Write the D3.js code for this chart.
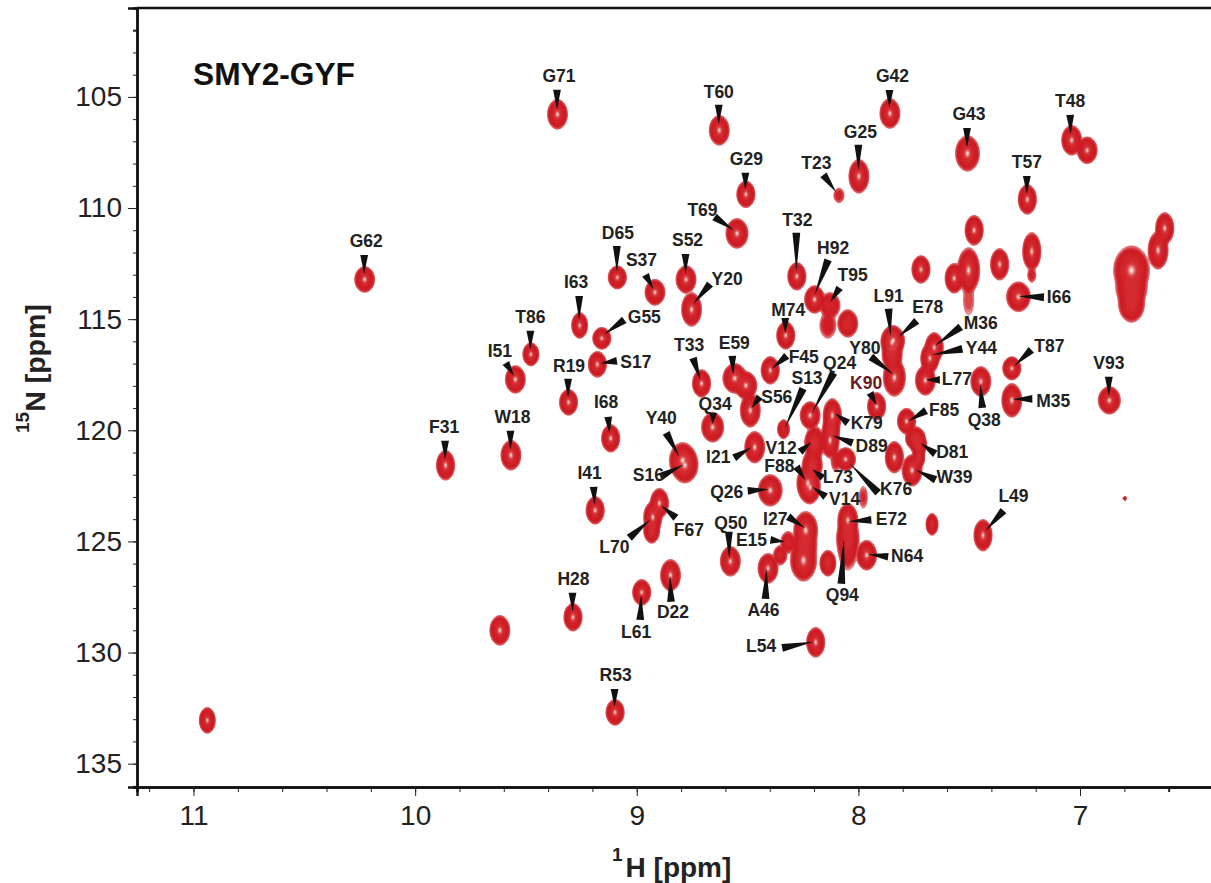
<!DOCTYPE html>
<html>
<head>
<meta charset="utf-8">
<script src="https://cdn.jsdelivr.net/npm/d3@7"></script>
<style>
  html, body { margin: 0; padding: 0; background: #fff; overflow: hidden; }
  text { font-family: "Liberation Sans", Arial, sans-serif; }
</style>
</head>
<body>
<div class="plot"></div>
<script>
// peak list: position and half width in ppm, relative height
const peakNames = [
  "G71","T60","G42","T48","","G43","G29","G25","T23","T57",
  "T69","G62","D65","S52","T32","Y20","S37","H92","T95","",
  "","","","","","","","","I66","",
  "","","","","I63","G55","S17","T86","I51","R19",
  "I68","T33","E59","","S56","F45","M74","Q34","Y40","S16",
  "I21","Q26","S13","Q24","V12","F88","L73","V14","K79","D89",
  "","K76","K90","L91","E78","Y80","","M36","Y44","L77",
  "T87","Q38","M35","V93","F85","","D81","W39","","",
  "L49","","E72","Q94","","N64","","I27","","E15",
  "A46","","Q50","D22","L61","F67","L70","","I41","F31",
  "W18","H28","","L54","R53","","",
  "","","",""
];
const peakH = [
  9.36,8.63,7.86,7.04,6.97,7.51,8.51,8.00,8.09,7.24,
  8.55,10.23,9.09,8.78,8.28,8.755,8.92,8.20,8.13,8.14,
  8.05,7.48,7.505,7.505,7.57,7.365,7.22,7.22,7.28,7.72,
  6.77,6.77,6.65,6.62,9.26,9.16,9.18,9.48,9.55,9.31,
  9.12,8.71,8.56,8.51,8.49,8.40,8.33,8.66,8.795,8.785,
  8.47,8.40,8.34,8.22,8.20,8.23,8.21,8.22,8.12,8.13,
  8.105,8.06,7.92,7.85,7.845,7.84,7.85,7.66,7.68,7.70,
  7.31,7.45,7.31,6.87,7.785,7.745,7.73,7.76,7.73,7.84,
  7.44,7.67,8.05,8.05,7.98,7.965,8.14,8.24,8.25,8.32,
  8.41,8.355,8.58,8.85,8.98,8.90,8.93,8.935,9.19,9.865,
  9.57,9.29,9.62,8.195,9.10,10.94,6.80,
  6.77,8.245,8.125,8.05
];
const peakN = [
  105.76,106.48,105.72,106.93,107.38,107.52,109.36,108.55,109.41,109.59,
  111.12,113.19,113.10,113.19,113.05,114.54,113.77,114.09,114.36,115.26,
  115.17,110.98,112.78,114.13,113.14,112.51,111.93,113.0,113.97,112.74,
  112.78,114.27,111.88,110.89,115.26,115.84,117.01,116.56,117.69,118.72,
  120.34,117.87,117.64,117.96,119.08,117.28,115.71,119.84,121.33,121.55,
  120.74,122.68,119.93,119.31,120.56,122.36,121.55,122.54,119.31,120.43,
  121.33,121.28,118.90,116.02,115.93,117.60,116.61,116.25,116.74,117.73,
  117.19,117.78,118.63,118.63,119.57,120.34,120.65,121.78,121.19,121.19,
  124.70,124.21,124.03,125.15,122.99,125.6,125.96,124.48,125.83,125.02,
  126.19,125.6,125.87,126.50,127.27,123.26,123.89,124.48,123.58,121.55,
  121.10,128.39,128.98,129.52,132.67,133.03,123.04,
  113.6,125.15,119.9,124.8
];
const peakWidthH = [
  .045,.045,.045,.045,.045,.054,.041,.045,.023,.041,
  .05,.045,.041,.045,.041,.045,.045,.045,.045,.036,
  .045,.041,.05,.023,.041,.041,.041,.018,.054,.041,
  .081,.059,.045,.041,.036,.041,.041,.036,.045,.041,
  .041,.041,.054,.05,.045,.041,.041,.05,.06,.059,
  .045,.054,.027,.045,.045,.05,.045,.045,.041,.041,
  .02,.045,.041,.05,.05,.05,.045,.041,.041,.045,
  .041,.045,.045,.05,.041,.045,.036,.045,.027,.041,
  .041,.027,.045,.045,.018,.045,.036,.054,.059,.032,
  .045,.03,.045,.045,.041,.041,.041,.036,.041,.041,
  .045,.041,.045,.041,.041,.036,.008,
  .07,.055,.038,.05
];
const peakWidthN = [
  .67,.67,.67,.67,.6,.8,.6,.76,.33,.67,
  .67,.58,.52,.62,.62,.76,.58,.62,.58,.58,
  .62,.67,1.02,.67,.67,.71,.85,.32,.67,.62,
  1.1,.85,.85,.71,.58,.49,.58,.52,.62,.58,
  .62,.62,.67,.62,.76,.62,.62,.67,.8,.8,
  .71,.71,.43,.62,.76,.85,.71,.74,.76,.8,
  .49,.52,.62,.71,.64,.85,.64,.67,.67,.67,
  .52,.67,.76,.62,.58,.52,.49,.71,.49,.71,
  .71,.49,.76,1.12,.49,.67,.58,.85,.94,.49,
  .67,.44,.67,.71,.58,.67,.71,.58,.62,.67,
  .67,.62,.67,.67,.58,.58,.09,
  .8,.8,.7,.9
];
const peakLevel = [
  1,1,1,1,1,1,1,1,.3,1,
  1,1,1,1,1,1,1,1,.6,.35,
  .8,1,1,.22,1,1,1,.3,1,1,
  1,.9,1,1,1,1,1,1,1,1,
  1,1,1,1,1,1,1,1,1,1,
  1,1,.6,1,.9,1,.9,1,1,1,
  .3,1,1,1,1,1,.9,1,1,1,
  1,1,1,1,1,.9,.9,1,.9,1,
  1,.8,1,.55,.25,1,.9,1,1,.5,
  1,.5,1,1,1,1,1,.9,1,1,
  1,1,1,1,1,1,.3,
  .8,.85,.85,.8
];

// annotation layout, px relative to the peak: text x,y / wedge base x,y / wedge tip x,y
const labelLayout = {
  G71:[2,-38,0,-24,0,-8], T60:[0,-38,0,-25,0,-10], G42:[3,-37,0,-23,0,-9], T48:[-1,-39,-1,-25,-1,-10],
  G43:[2,-39,0,-25,0,-10], G29:[1,-35,0,-21,0,-8], G25:[2,-44,0,-31,0,-10], T23:[-22,-32,-15,-20,-4,-5],
  T57:[0,-37,0,-23,0,-9], T69:[-34,-23,-22,-16,-5,-5], G62:[2,-38,0,-24,0,-9], D65:[1,-44,0,-31,0,-9],
  S52:[2,-39,0,-25,0,-9], T32:[1,-56,0,-43,0,-8], S37:[-13,-32,-9,-17,-2,-5], Y20:[36,-30,19,-25,4,-9],
  H92:[19,-51,14,-39,1,-7], T95:[23,-30,10,-17,1,-5], I63:[-3,-43,0,-29,0,-9], G55:[43,-21,23,-18,5,-6],
  S17:[39,-2,20,-3,7,-1], T86:[0,-37,0,-23,0,-8], I51:[-15,-28,-9,-16,-2,-6], R19:[1,-36,0,-23,0,-8],
  I68:[-4,-36,-2,-21,-1,-8], T33:[-12,-38,-8,-25,-1,-5], E59:[0,-35,-2,-22,-2,-6], S56:[27,-13,10,-13,3,-3],
  F45:[34,-13,17,-14,4,-2], M74:[3,-25,0,-17,0,-3], Q34:[3,-23,1,-14,1,-5], Y40:[-21,-42,-16,-27,-5,-5],
  S16:[-36,10,-24,12,-2,0], I21:[-36,10,-20,11,-5,1], Q26:[-43,2,-22,1,-2,-1], S13:[24,-51,20,-40,3,-1],
  Q24:[30,-52,24,-42,4,-3], V12:[-33,5,-14,9,-5,-1], F88:[-28,-17,-11,-16,-4,-5], L73:[26,12,11,13,1,8],
  V14:[35,12,16,10,5,0], K79:[35,8,16,8,6,-3], D89:[42,6,23,3,5,-8], K76:[51,30,33,34,8,8],
  K90:[-10,-23,-6,-13,1,-1], L91:[-3,-46,-3,-33,-2,-10], E78:[35,-33,24,-19,10,-5], Y80:[-29,-29,-23,-20,0,-4],
  M36:[47,-24,27,-20,2,-2], Y44:[52,-10,33,-9,5,-5], L77:[32,-1,15,0,2,0], T87:[38,-22,20,-18,5,-3],
  Q38:[4,39,2,27,0,6], M35:[42,1,21,-1,3,-1], V93:[0,-37,0,-23,0,-7], F85:[38,-11,20,-10,4,1],
  D81:[34,7,17,9,4,-3], W39:[43,7,24,10,7,0], L49:[31,-39,21,-24,5,-7], E72:[44,-1,24,0,2,3],
  Q94:[-5,50,-6,39,-6,-12], N64:[41,1,22,2,4,-1], I27:[-30,-11,-17,-13,0,-3], E15:[-36,-2,-17,-2,-5,0],
  A46:[-4,42,-2,31,-2,2], Q50:[1,-38,-1,-29,-1,-4], D22:[3,37,1,27,0,2], L61:[-5,40,-1,28,0,5],
  F67:[30,27,17,15,4,5], L70:[-38,30,-23,21,-3,5], I41:[-5,-37,-1,-23,0,-9], F31:[-1,-38,0,-24,0,-9],
  W18:[2,-38,0,-24,0,-9], H28:[1,-38,0,-24,0,-9], L54:[-54,4,-33,6,-3,0], R53:[1,-37,0,-23,0,-9],
  I66:[41,0,26,1,1,0]
};

const xTicks = [11, 10, 9, 8, 7];
const yTicks = [105, 110, 115, 120, 125, 130, 135];

const width = 1211, height = 883;
const margin = { top: 8, right: -2, bottom: 96, left: 137 };
const plotW = width - margin.left - margin.right;
const plotH = height - margin.top - margin.bottom;

const x = d3.scaleLinear().domain([11.255, 6.4]).range([0, plotW]);
const y = d3.scaleLinear().domain([101, 136.05]).range([0, plotH]);

const svg = d3.select(".plot").append("svg")
  .attr("width", width)
  .attr("height", height)
  .style("display", "block");

const g = svg.append("g").attr("transform", `translate(${margin.left}, ${margin.top})`);

svg.append("defs").append("filter").attr("id", "soft")
  .append("feGaussianBlur").attr("stdDeviation", 0.5);

// 2d intensity field from the peak list, contoured below
const nx = Math.ceil(plotW), ny = Math.ceil(plotH);
const sumField = new Float64Array(nx * ny);
const maxField = new Float64Array(nx * ny);
const floorLevel = 0.12;
peakH.forEach((h, i) => {
  const level = peakLevel[i];
  const k = Math.log(level / floorLevel);
  const x0 = Math.max(0, Math.floor(x(h + peakWidthH[i] * 1.6)));
  const x1 = Math.min(nx - 1, Math.ceil(x(h - peakWidthH[i] * 1.6)));
  const y0 = Math.max(0, Math.floor(y(peakN[i] - peakWidthN[i] * 1.6)));
  const y1 = Math.min(ny - 1, Math.ceil(y(peakN[i] + peakWidthN[i] * 1.6)));
  for (let row = y0; row <= y1; row++) {
    const dn = (y.invert(row) - peakN[i]) / peakWidthN[i];
    for (let col = x0; col <= x1; col++) {
      const dh = (x.invert(col) - h) / peakWidthH[i];
      const v = level * Math.exp(-k * Math.pow(dh * dh + dn * dn, 1.35));
      sumField[row * nx + col] += v * v;
      if (v > maxField[row * nx + col]) maxField[row * nx + col] = v;
    }
  }
});
// neighbouring peaks run together low down, but each keeps its own summit
const field = new Float64Array(nx * ny);
for (let i = 0; i < field.length; i++) {
  const top = maxField[i];
  const blend = Math.max(0, Math.min(1, (0.9 - top) / 0.3));
  field[i] = top + (Math.sqrt(sumField[i]) - top) * blend;
}

const levels = [0.12, 0.14, 0.165, 0.19, 0.23, 0.3, 0.4, 0.52, 0.66, 0.8, 0.9, 0.955, 0.98, 0.994];
const levelColors = ["#f6cfcd", "#efaeac", "#e27f7d", "#d9494b", "#d2242a", "#d11f27", "#d2222a", "#d3242b", "#d4272d", "#d52c31", "#d83a3e", "#de5c5e", "#e88f8d", "#f3cfcc"];

const contours = d3.contours().size([nx, ny]).thresholds(levels)(field);
const path = d3.geoPath();

g.append("g")
  .attr("filter", "url(#soft)")
  .selectAll("path")
  .data(contours)
  .enter().append("path")
  .attr("d", path)
  .attr("fill", (d, i) => levelColors[i])
  .attr("stroke", (d, i) => i < 4 ? "#c9202a" : "#b8141f")
  .attr("stroke-width", (d, i) => i < 4 ? 0.7 : 0.3)
  .attr("stroke-opacity", (d, i) => i < 9 ? 0.7 : 0.25);

// peak labels with their wedge pointers
const labelled = peakNames.map((name, i) => ({ name, h: peakH[i], n: peakN[i] })).filter(d => d.name);

const wedge = d => {
  const o = labelLayout[d.name];
  const px = x(d.h), py = y(d.n);
  const bx = px + o[2], by = py + o[3], tx = px + o[4] * 0.55, ty = py + o[5] * 0.55;
  const len = Math.hypot(tx - bx, ty - by);
  const nxx = -(ty - by) / len * 3.9, nyy = (tx - bx) / len * 3.9;
  return `M${bx + nxx},${by + nyy}L${bx - nxx},${by - nyy}L${tx},${ty}Z`;
};

g.append("g").selectAll("path")
  .data(labelled)
  .enter().append("path")
  .attr("d", wedge)
  .attr("fill", "#111");

g.append("g").selectAll("text")
  .data(labelled)
  .enter().append("text")
  .attr("x", d => x(d.h) + labelLayout[d.name][0])
  .attr("y", d => y(d.n) + labelLayout[d.name][1])
  .attr("dy", "0.36em")
  .attr("text-anchor", "middle")
  .attr("font-size", 17.5)
  .attr("font-weight", "bold")
  .attr("fill", d => d.name === "K90" ? "#6b1a22" : "#222")
  .text(d => d.name);

// axes
const xAxisG = g.append("g").attr("transform", `translate(0, ${plotH})`);
xAxisG.call(d3.axisBottom(x).tickValues(d3.range(6.6, 11.21, 0.2)).tickSize(5).tickFormat(""));
xAxisG.append("g").call(d3.axisBottom(x).tickValues(xTicks).tickSize(9).tickFormat(d3.format("d")).tickPadding(9));

const yAxisG = g.append("g");
yAxisG.call(d3.axisLeft(y).tickValues(d3.range(102, 137, 1)).tickSize(4).tickFormat(""));
yAxisG.append("g").call(d3.axisLeft(y).tickValues(yTicks).tickSize(9).tickFormat(d3.format("d")).tickPadding(6));

g.selectAll(".domain").attr("stroke", "#111").attr("stroke-width", 2.4);
g.selectAll(".tick line").attr("stroke", "#222").attr("stroke-width", 1);
xAxisG.select("g").selectAll(".tick line").attr("stroke-width", 2);
yAxisG.select("g").selectAll(".tick line").attr("stroke-width", 2);
g.selectAll(".tick text")
  .attr("font-family", "'Liberation Sans', Arial, sans-serif")
  .attr("font-size", 28)
  .attr("fill", "#222");

// top frame line
g.append("line")
  .attr("x1", 0).attr("x2", plotW)
  .attr("y1", 0).attr("y2", 0)
  .attr("stroke", "#111")
  .attr("stroke-width", 2.4);

// titles
svg.append("text")
  .attr("x", 193).attr("y", 85)
  .attr("font-size", 31.7)
  .attr("font-weight", "bold")
  .attr("fill", "#111")
  .text("SMY2-GYF");

const xTitle = svg.append("text")
  .attr("x", 612).attr("y", 877)
  .attr("font-size", 28)
  .attr("font-weight", "bold")
  .attr("fill", "#222");
xTitle.append("tspan").attr("font-size", 19).attr("dy", -16).text("1");
xTitle.append("tspan").attr("dy", 16).attr("dx", 3).text("H [ppm]");

const yTitle = svg.append("text")
  .attr("transform", "translate(45, 433) rotate(-90)")
  .attr("font-size", 28.5)
  .attr("font-weight", "bold")
  .attr("fill", "#222");
yTitle.append("tspan").attr("font-size", 19).attr("dy", -16).text("15");
yTitle.append("tspan").attr("dy", 16).text("N [ppm]");
</script>
</body>
</html>
